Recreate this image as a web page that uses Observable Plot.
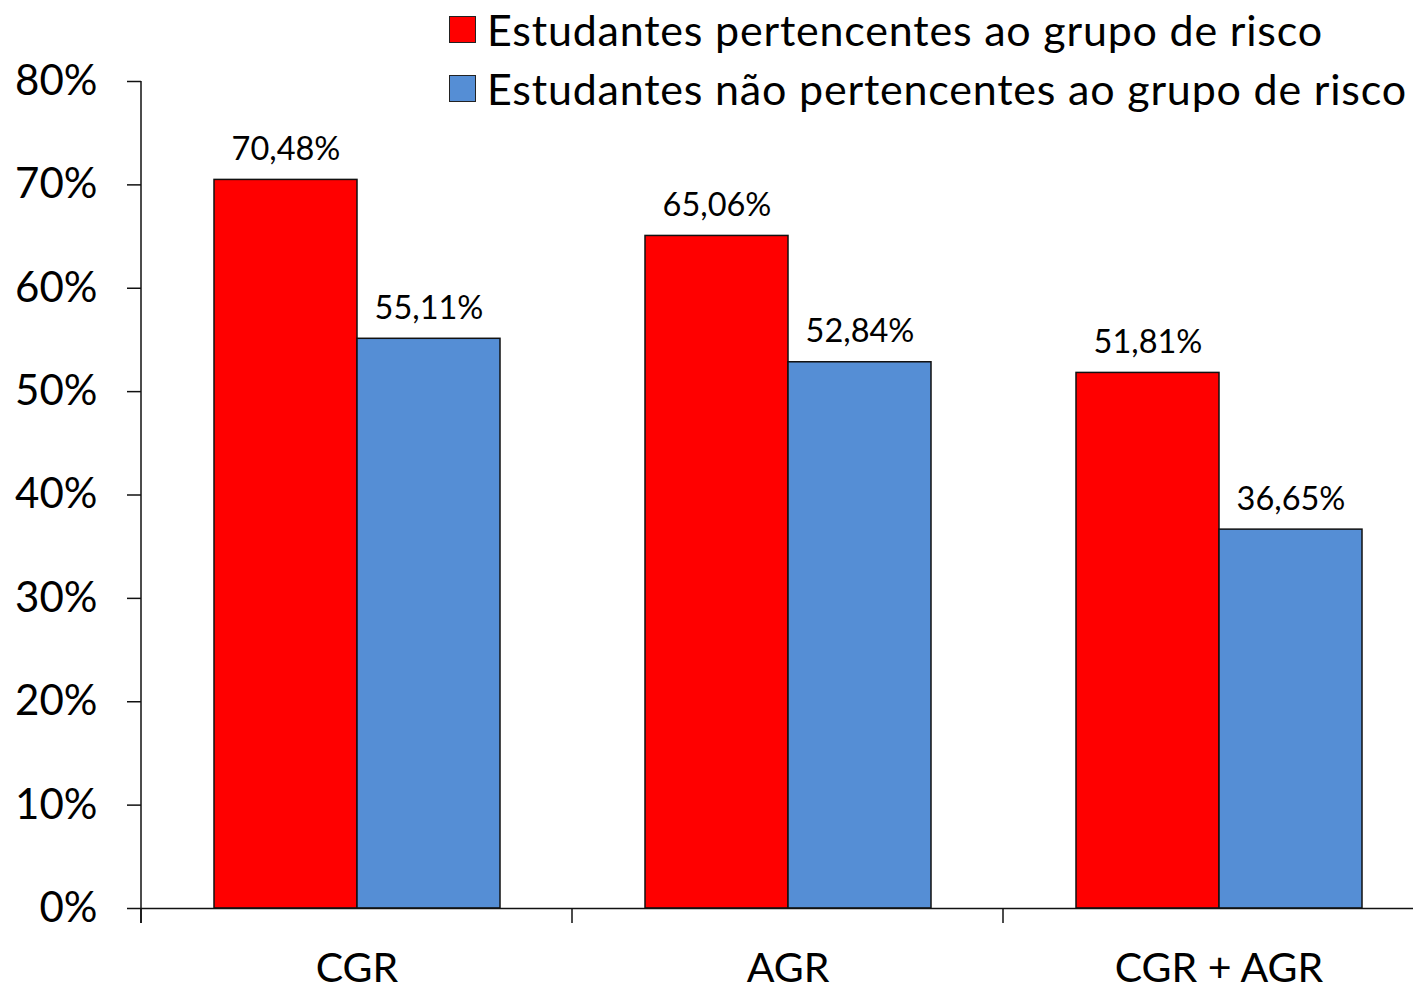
<!DOCTYPE html>
<html>
<head>
<meta charset="utf-8">
<script src="https://cdn.jsdelivr.net/npm/d3@7"></script>
<script src="https://cdn.jsdelivr.net/npm/@observablehq/plot@0.6"></script>
<style>
  html, body { margin: 0; padding: 0; background: white; }
  #wrap { position: relative; width: 1413px; height: 990px; overflow: hidden; font-family: Lato, sans-serif; }
  #legend { position: absolute; left: 449px; top: 0px; color: black; }
  .row { display: flex; align-items: center; height: 59px; font-size: 43px; letter-spacing: 0.8px; white-space: nowrap; }
  .sw { width: 25px; height: 25px; border: 1.5px solid #222; margin-right: 11px; flex: none; }
</style>
</head>
<body>
<div id="wrap"><div id="legend"></div></div>
<script>
const categories = ["CGR", "AGR", "CGR + AGR"];
const series = ["Estudantes pertencentes ao grupo de risco", "Estudantes não pertencentes ao grupo de risco"];
const riskValues = [70.48, 65.06, 51.81];
const nonRiskValues = [55.11, 52.84, 36.65];
const colors = ["#FF0000", "#558ED5"];
const yTicks = [0, 10, 20, 30, 40, 50, 60, 70, 80];

const data = [];
categories.forEach((c, i) => {
  data.push({category: c, series: series[0], value: riskValues[i]});
  data.push({category: c, series: series[1], value: nonRiskValues[i]});
});
const fmt = v => v.toFixed(2).replace(".", ",") + "%";

const chart = Plot.plot({
  width: 1413,
  height: 990,
  marginLeft: 140,
  marginRight: -21.5,
  marginTop: 81,
  marginBottom: 82,
  style: {fontFamily: "Lato, sans-serif", background: "white", color: "black", overflow: "visible"},
  fx: {domain: categories, padding: 0, label: null, axis: null},
  x: {domain: series, paddingInner: 0, paddingOuter: 0.5, axis: null},
  y: {domain: [0, 80], label: null, axis: null},
  color: {domain: series, range: colors},
  marks: [
    Plot.barY(data, {fx: "category", x: "series", y: "value", fill: "series", stroke: "#111", strokeWidth: 1.5}),
    Plot.text(data, {fx: "category", x: "series", y: "value", text: d => fmt(d.value), lineAnchor: "bottom", dy: -20, fontSize: 32.5, fill: "black"}),
    Plot.ruleY([0], {stroke: "#111", strokeWidth: 1.5}),
    Plot.axisY({ticks: yTicks, tickSize: 14, tickPadding: 30, fontSize: 42, tickFormat: d => d + "%", label: null, stroke: "#111", strokeWidth: 1.5}),
    Plot.axisFx({anchor: "bottom", tickSize: 0, tickPadding: 44, fontSize: 41, label: null})
  ]
});

document.getElementById("wrap").appendChild(chart);

// axis line and category boundary ticks, positioned via the chart's own scales
const fx = chart.scale("fx");
const y = chart.scale("y");
const svg = d3.select(chart);
const x0 = fx.apply(categories[0]);
svg.append("line")
  .attr("x1", x0).attr("x2", x0)
  .attr("y1", y.apply(80)).attr("y2", y.apply(0) + 15)
  .attr("stroke", "#111").attr("stroke-width", 1.5);
categories.forEach(c => {
  const xb = fx.apply(c);
  svg.append("line")
    .attr("x1", xb).attr("x2", xb)
    .attr("y1", y.apply(0)).attr("y2", y.apply(0) + 15)
    .attr("stroke", "#111").attr("stroke-width", 1.5);
});

// legend
const legend = d3.select("#legend");
series.forEach((s, i) => {
  const row = legend.append("div").attr("class", "row");
  row.append("div").attr("class", "sw").style("background", colors[i]);
  row.append("span").text(s);
});
</script>
</body>
</html>
